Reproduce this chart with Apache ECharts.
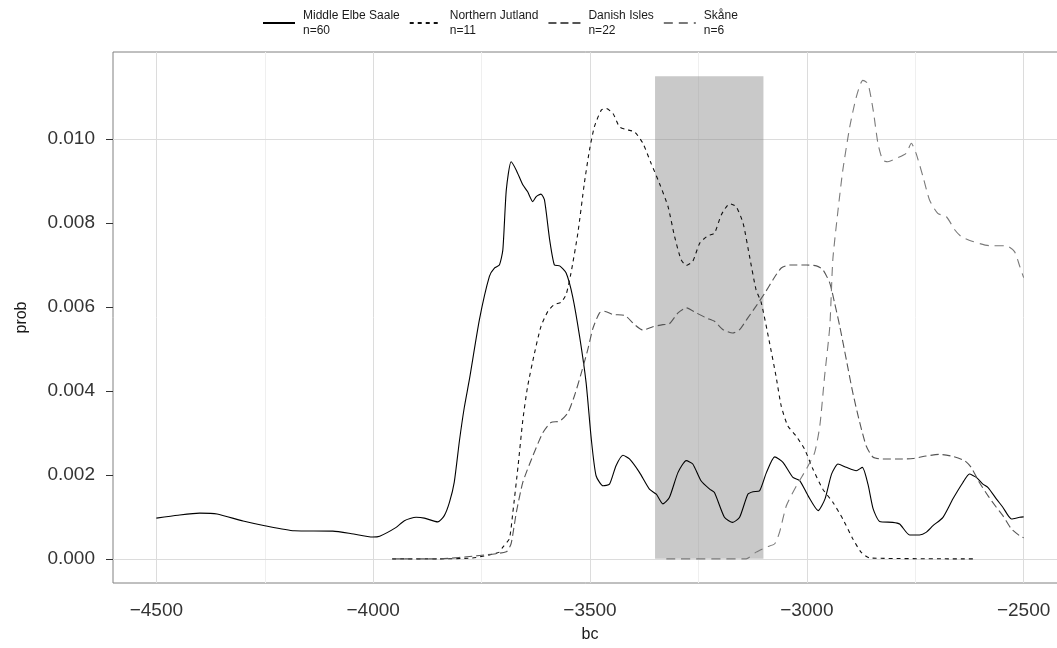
<!DOCTYPE html>
<html>
<head>
<meta charset="utf-8">
<script src="https://cdn.jsdelivr.net/npm/echarts@6/dist/echarts.min.js"></script>
<style>
  html, body { margin: 0; padding: 0; background: #fff; }
  #chart { width: 1057px; height: 648px; }
</style>
</head>
<body>
<div id="chart"></div>
<script>
// region names + sample sizes (legend)
const regions = ["Middle Elbe Saale", "Northern Jutland", "Danish Isles", "Skåne"];
const counts = [60, 11, 22, 6];

// Middle Elbe Saale
const mesBc = [-4500, -4450, -4400, -4360, -4300, -4250, -4182, -4093, -4050, -4001, -3985, -3947, -3928, -3901,
  -3882, -3851, -3836, -3824, -3813, -3801, -3790, -3778, -3755, -3732, -3720, -3709, -3701, -3693, -3682,
  -3670, -3655, -3644, -3632, -3624, -3613, -3605, -3593, -3582, -3570, -3555, -3540, -3524, -3509, -3497,
  -3486, -3470, -3455, -3440, -3424, -3409, -3386, -3363, -3347, -3332, -3317, -3297, -3278, -3263, -3244,
  -3224, -3213, -3190, -3171, -3155, -3136, -3124, -3109, -3093, -3074, -3055, -3032, -3016, -2997, -2974,
  -2958, -2943, -2928, -2909, -2886, -2872, -2859, -2847, -2832, -2802, -2786, -2763, -2740, -2725, -2709,
  -2686, -2663, -2640, -2625, -2609, -2594, -2582, -2563, -2548, -2528, -2509, -2500];
const mesProb = [0.00097, 0.00104, 0.00109, 0.00107, 0.00090, 0.00079, 0.00067, 0.00066, 0.00060, 0.00052, 0.00054,
  0.00075, 0.00091, 0.00099, 0.00097, 0.00088, 0.00103, 0.00135, 0.00183, 0.00282, 0.0036, 0.00428, 0.0057,
  0.00673, 0.00693, 0.0070, 0.00736, 0.00879, 0.00946, 0.00926, 0.00891, 0.00875, 0.00851, 0.00863, 0.00869,
  0.00855, 0.0076, 0.0070, 0.00698, 0.00681, 0.00625, 0.0053, 0.0042, 0.00285, 0.00198, 0.00174, 0.00178,
  0.00222, 0.00247, 0.00238, 0.00206, 0.00166, 0.00154, 0.00131, 0.00146, 0.00206, 0.00234, 0.00226, 0.00186,
  0.00166, 0.00158, 0.00099, 0.00087, 0.00099, 0.00154, 0.0016, 0.00162, 0.00206, 0.00243, 0.0023, 0.00194,
  0.00186, 0.0015, 0.00115, 0.00143, 0.00202, 0.00226, 0.00218, 0.0021, 0.00218, 0.00178, 0.00119, 0.00089,
  0.00087, 0.00083, 0.00057, 0.00057, 0.00063, 0.00079, 0.00099, 0.00143, 0.00182, 0.00202, 0.00194, 0.00178,
  0.0017, 0.00143, 0.00123, 0.00095, 0.00099, 0.0010];

// Northern Jutland
const njBc = [-3956, -3850, -3771, -3730, -3709, -3701, -3686, -3678, -3666, -3655, -3644, -3628, -3613, -3597,
  -3582, -3567, -3555, -3544, -3528, -3513, -3501, -3490, -3474, -3463, -3447, -3432, -3417, -3397, -3378,
  -3359, -3340, -3320, -3305, -3290, -3278, -3263, -3247, -3228, -3213, -3197, -3178, -3163, -3147, -3132,
  -3117, -3105, -3086, -3071, -3059, -3044, -3025, -3005, -2986, -2963, -2940, -2917, -2894, -2875, -2855, -2617];
const njProb = [0, 0, 0.00002, 0.0001, 0.00016, 0.00028, 0.00048, 0.0011, 0.0022, 0.0033, 0.0041, 0.0049, 0.00554,
  0.0059, 0.00606, 0.00611, 0.0063, 0.0068, 0.00776, 0.00895, 0.00975, 0.01029, 0.01069, 0.01073, 0.01061,
  0.01029, 0.01023, 0.01017, 0.0099, 0.00942, 0.00895, 0.00839, 0.00768, 0.00713, 0.00699, 0.00709, 0.00752,
  0.0077, 0.00776, 0.0082, 0.00846, 0.00839, 0.008, 0.0072, 0.00641, 0.0061, 0.00515, 0.00435, 0.00364,
  0.00317, 0.00293, 0.00261, 0.00214, 0.00166, 0.00135, 0.00095, 0.00048, 0.00016, 0.00002, 0];

// Danish Isles
const diBc = [-3956, -3850, -3755, -3693, -3682, -3670, -3655, -3632, -3609, -3590, -3570, -3551, -3536, -3520,
  -3505, -3493, -3478, -3467, -3447, -3420, -3397, -3378, -3355, -3332, -3317, -3297, -3278, -3255, -3232,
  -3213, -3193, -3171, -3155, -3136, -3117, -3097, -3078, -3059, -3040, -3001, -2978, -2963, -2947, -2936,
  -2924, -2909, -2894, -2878, -2863, -2847, -2825, -2786, -2755, -2725, -2694, -2663, -2636, -2621, -2602,
  -2582, -2563, -2548, -2528, -2509, -2500];
const diProb = [0, 0, 0.00008, 0.00017, 0.00036, 0.0011, 0.00182, 0.00245, 0.003, 0.00325, 0.00328, 0.00348,
  0.00388, 0.00443, 0.00499, 0.0055, 0.00586, 0.0059, 0.00582, 0.0058, 0.00558, 0.00545, 0.00553, 0.00558,
  0.0056, 0.00586, 0.00598, 0.00586, 0.00574, 0.00566, 0.00546, 0.00538, 0.00546, 0.00574, 0.00602, 0.00633,
  0.00665, 0.00693, 0.0070, 0.0070, 0.00698, 0.00689, 0.00657, 0.0061, 0.00554, 0.00475, 0.00396, 0.00325,
  0.00269, 0.00242, 0.00238, 0.00238, 0.00239, 0.00245, 0.00249, 0.00244, 0.00234, 0.00218, 0.00182, 0.0015,
  0.00123, 0.00103, 0.00071, 0.00055, 0.0005];

// Skåne
const skBc = [-3324, -3140, -3117, -3093, -3074, -3063, -3047, -3024, -3001, -2982, -2970, -2959, -2947, -2940,
  -2928, -2917, -2901, -2886, -2871, -2859, -2847, -2836, -2825, -2813, -2794, -2771, -2759, -2748, -2732,
  -2717, -2698, -2678, -2659, -2644, -2617, -2578, -2540, -2521, -2509, -2500];
const skProb = [0, 0, 0.00016, 0.00028, 0.00036, 0.00063, 0.00127, 0.00174, 0.00214, 0.00253, 0.00317, 0.00435,
  0.00554, 0.00713, 0.00831, 0.00926, 0.01029, 0.011, 0.0114, 0.01132, 0.01069, 0.0099, 0.0095, 0.00946,
  0.00954, 0.00966, 0.0099, 0.00966, 0.0091, 0.00855, 0.00823, 0.00815, 0.00784, 0.00768, 0.00756, 0.00746,
  0.00746, 0.00732, 0.00697, 0.0067];

// shaded band
const bandBc = [-3350, -3100];
const bandTop = 0.0115;

// axis ticks
const xTicks = [-4500, -4000, -3500, -3000, -2500];
const xMinor = [-4250, -3750, -3250, -2750];
const yTicks = [0, 0.002, 0.004, 0.006, 0.008, 0.010];
const yMinor = [0.001, 0.003, 0.005, 0.007, 0.009, 0.011];

const FONT = "'Liberation Sans', Arial, sans-serif";
const zip = (xs, ys) => xs.map((x, i) => [x, ys[i]]);

const lineDefs = [
  { data: zip(mesBc, mesProb), color: "#000000", type: "solid" },
  { data: zip(njBc, njProb), color: "#111111", type: [4, 4] },
  { data: zip(diBc, diProb), color: "#555555", type: [8, 4] },
  { data: zip(skBc, skProb), color: "#7a7a7a", type: [9, 6] },
];

const gridLines = [
  ...xMinor.map((v) => ({ xAxis: v, lineStyle: { color: "#efefef" } })),
  ...yMinor.map((v) => ({ yAxis: v, lineStyle: { color: "#efefef" } })),
  ...xTicks.map((v) => ({ xAxis: v, lineStyle: { color: "#dcdcdc" } })),
  ...yTicks.map((v) => ({ yAxis: v, lineStyle: { color: "#dcdcdc" } })),
];

const chart = echarts.init(document.getElementById("chart"), null, { renderer: "canvas" });

chart.setOption({
  animation: false,
  backgroundColor: "#ffffff",
  textStyle: { fontFamily: FONT },
  grid: {
    left: 113, top: 52, width: 954, height: 531,
    outerBoundsMode: "none", containLabel: false,
    show: true, borderColor: "#808080", borderWidth: 1,
  },
  legend: {
    top: 8,
    left: 262,
    padding: 0,
    itemWidth: 32,
    itemHeight: 14,
    itemGap: 9,
    data: regions,
    itemStyle: { color: "rgba(0,0,0,0)", borderWidth: 0 },
    formatter: (name) => name + "\nn=" + counts[regions.indexOf(name)],
    textStyle: { fontFamily: FONT, fontSize: 12, color: "#1a1a1a", lineHeight: 15, padding: [0, 0, 0, 3] },
  },
  xAxis: {
    type: "value",
    min: -4600,
    max: -2400,
    name: "bc",
    nameLocation: "middle",
    nameGap: 44,
    nameTextStyle: { fontFamily: FONT, fontSize: 16, color: "#1a1a1a" },
    axisLine: { show: false },
    splitLine: { show: false },
    axisTick: { show: true, length: 7, customValues: xTicks, lineStyle: { color: "#333333" } },
    axisLabel: {
      customValues: xTicks,
      margin: 18,
      fontFamily: FONT,
      fontSize: 19,
      color: "#333333",
      formatter: (v) => String(v).replace("-", "\u2212"),
    },
  },
  yAxis: {
    type: "value",
    min: -0.000575,
    max: 0.012075,
    name: "prob",
    nameLocation: "middle",
    nameGap: 83,
    nameTextStyle: { fontFamily: FONT, fontSize: 16, color: "#1a1a1a" },
    axisLine: { show: false },
    splitLine: { show: false },
    axisTick: { show: true, length: 7, customValues: yTicks, lineStyle: { color: "#333333" } },
    axisLabel: {
      customValues: yTicks,
      margin: 18,
      fontFamily: FONT,
      fontSize: 19,
      color: "#333333",
      formatter: (v) => v.toFixed(3),
    },
  },
  series: [
    {
      // panel grid lines
      type: "line",
      data: [],
      silent: true,
      z: 1,
      markLine: {
        z: 1, silent: true, symbol: "none", label: { show: false },
        lineStyle: { type: "solid", width: 1 }, data: gridLines,
      },
    },
    {
      // translucent band, drawn over the grid
      type: "line",
      data: [],
      silent: true,
      z: 4,
      markArea: {
        z: 4, silent: true,
        itemStyle: { color: "rgba(127,127,127,0.42)" },
        data: [[{ xAxis: bandBc[0], yAxis: 0 }, { xAxis: bandBc[1], yAxis: bandTop }]],
      },
    },
    ...lineDefs.map((d, i) => ({
      name: regions[i],
      type: "line",
      data: d.data,
      smooth: 0.2,
      symbol: "none",
      z: 6,
      color: d.color,
      lineStyle: { color: d.color, width: 1.1, type: d.type },
    })),
  ],
});
</script>
</body>
</html>
